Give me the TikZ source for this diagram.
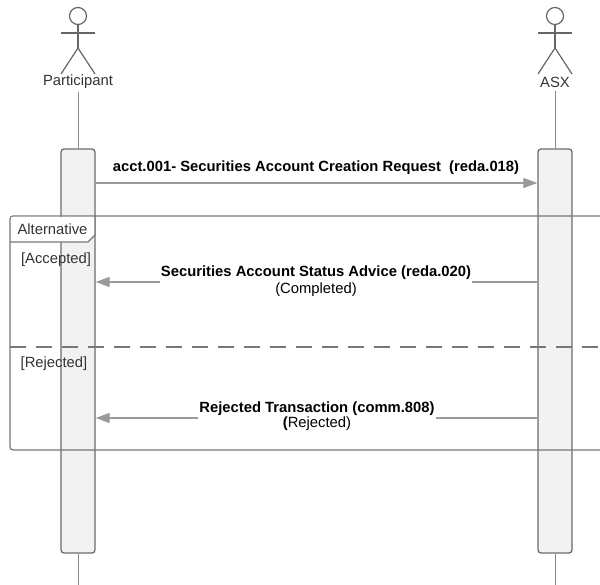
\documentclass[tikz,border=0pt]{standalone}
\usepackage{fontspec}
\setmainfont{Liberation Sans}
\usepackage{xcolor}
\usepackage{tikz}
\usetikzlibrary{arrows.meta}

\definecolor{txtgrey}{HTML}{333333}
\definecolor{actgrey}{HTML}{666666}
\definecolor{boxgrey}{HTML}{6B6B6B}
\definecolor{boxfill}{HTML}{F2F2F2}
\definecolor{lifegrey}{HTML}{888888}
\definecolor{msggrey}{HTML}{9A9A9A}
\definecolor{framegrey}{HTML}{777777}

\begin{document}
\begin{tikzpicture}[x=1pt,y=-1pt,
  every node/.style={font=\fontsize{14.8}{15}\selectfont, text=txtgrey},
  actor/.style={draw=actgrey, line width=1.2pt},
  actbox/.style={draw=boxgrey, fill=boxfill, line width=1.3pt, rounded corners=3pt,
    minimum width=34pt, minimum height=404pt, inner sep=0pt},
  life/.style={draw=lifegrey, line width=0.8pt},
  msg/.style={draw=msggrey, line width=1.3pt},
  msgarrow/.style={msg, -{Triangle[length=14pt,width=10pt]}},
  msgtext/.style={font=\fontsize{14.8}{15}\selectfont, text=black, inner sep=1pt, align=center},
  frame/.style={draw=framegrey, line width=1.3pt}]
\useasboundingbox (0,0) rectangle (600,585);

\draw[actor] (78,16) circle (8.5pt);
\draw[actor] (78,24.5) -- (78,48);
\draw[actor] (61,33) -- (95,33);
\draw[actor] (61,74) -- (78,48) -- (95,74);
\node (plabel) at (78,82) {Participant};

\draw[actor] (555,16) circle (8.5pt);
\draw[actor] (555,24.5) -- (555,48);
\draw[actor] (538,33) -- (572,33);
\draw[actor] (538,74) -- (555,48) -- (572,74);
\node (alabel) at (555,82) {ASX};

\node[actbox] (pact) at (78,351) {};
\node[actbox] (aact) at (555,351) {};
\coordinate (pend) at (78,586);
\coordinate (aend) at (555,586);
\draw[life] (plabel.south) -- (pact.north);
\draw[life] (pact.south) -- (pend);
\draw[life] (alabel.south) -- (aact.north);
\draw[life] (aact.south) -- (aend);

\draw[frame, rounded corners=3pt] (603,216) -- (10,216) -- (10,450) -- (603,450);
\fill[white] (11,217) -- (95,217) -- (95,235) -- (88,242) -- (11,242) -- cycle;
\draw[frame] (95,216) -- (95,235) -- (88,242) -- (10,242);
\node (alt) at (52.5,229) {Alternative};
\draw[frame, dash pattern=on 16pt off 10pt] (10,347) -- (603,347);
\node (acc) at (56,260) {[Accepted]};
\node (rej) at (54,364) {[Rejected]};

\coordinate (y1) at (0,183);
\coordinate (y2) at (0,282);
\coordinate (y3) at (0,418);

\node[msgtext] (m1) at (316,168) {\bfseries acct.001- Securities Account Creation Request\ \ (reda.018)};
\draw[msgarrow] (pact.east |- y1) -- (aact.west |- y1);

\node[msgtext] (m2) at (316,281) {\bfseries Securities Account Status Advice (reda.020)\\[2pt](Completed)};
\draw[msg] (aact.west |- y2) -- (m2.east |- y2);
\draw[msgarrow] (m2.west |- y2) -- (pact.east |- y2);

\node[msgtext] (m3) at (317,416) {\bfseries Rejected Transaction (comm.808)\\\textbf{(}Rejected)};
\draw[msg] (aact.west |- y3) -- (m3.east |- y3);
\draw[msgarrow] (m3.west |- y3) -- (pact.east |- y3);
\end{tikzpicture}
\end{document}
